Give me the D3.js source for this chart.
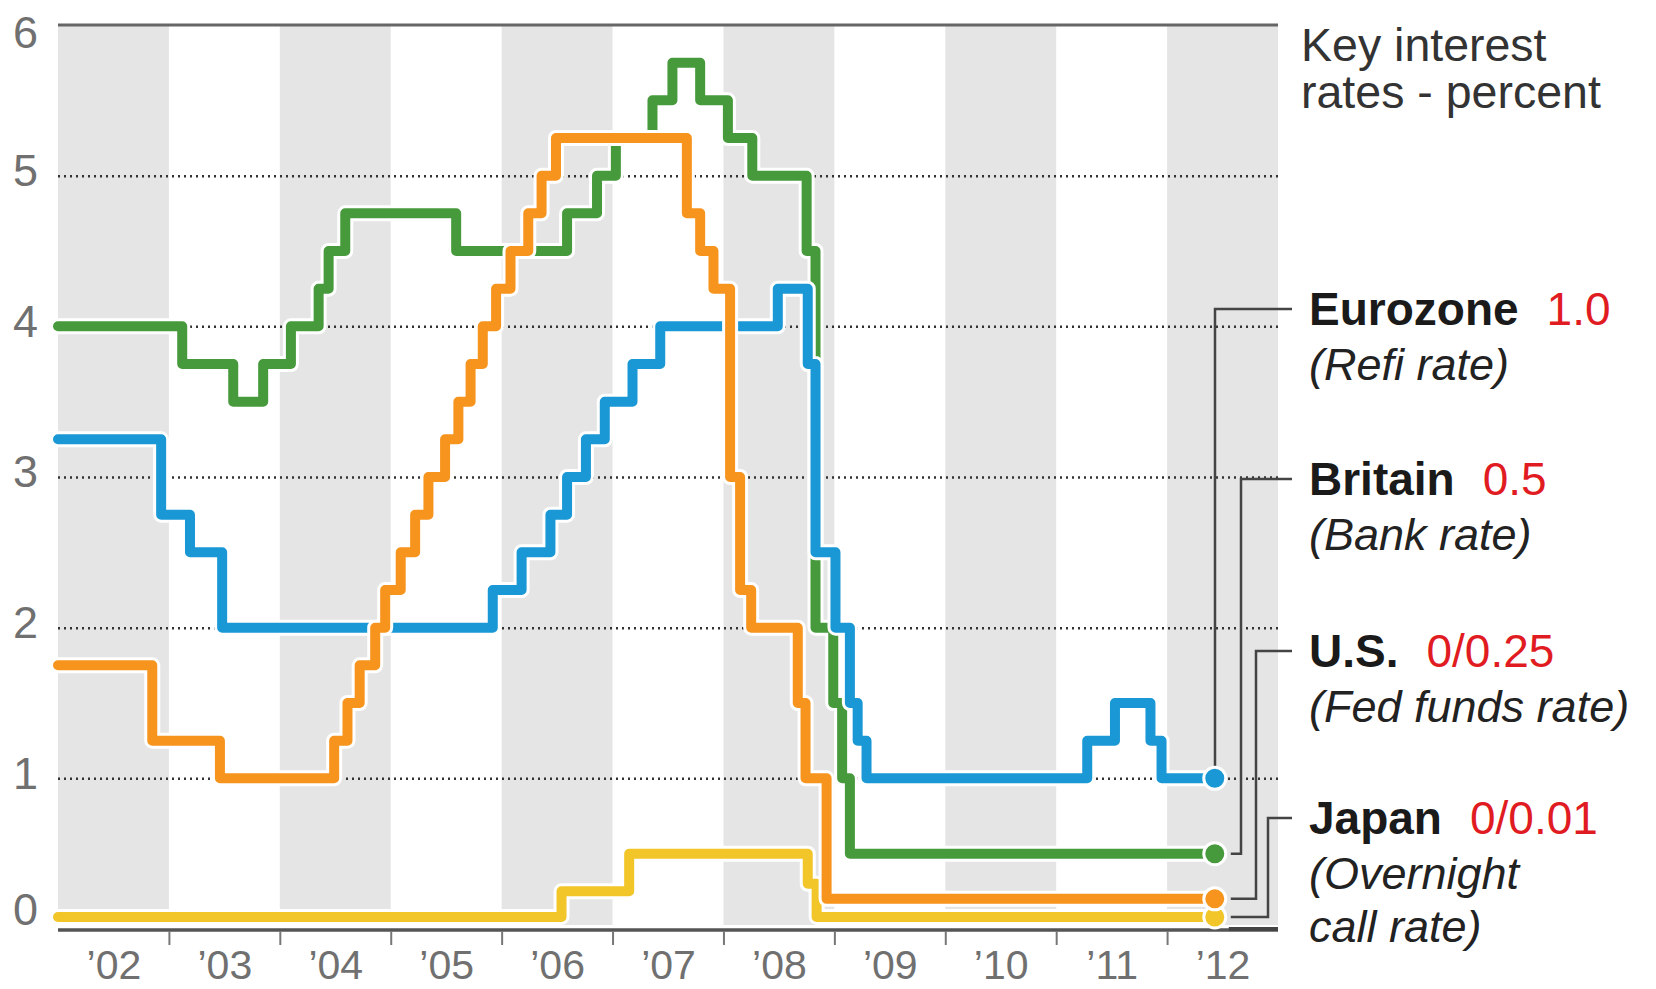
<!DOCTYPE html>
<html>
<head>
<meta charset="utf-8">
<script src="https://cdn.jsdelivr.net/npm/d3@7"></script>
<style>
  body { margin: 0; background: #fff; }
  svg text { font-family: "Liberation Sans", Arial, Helvetica, sans-serif; }
</style>
</head>
<body>
<div id="chart"></div>
<script>
// years shown as bands, and their labels
var years = [2002, 2003, 2004, 2005, 2006, 2007, 2008, 2009, 2010, 2011, 2012];
var yearLabels = ["\u201902", "\u201903", "\u201904", "\u201905", "\u201906", "\u201907", "\u201908", "\u201909", "\u201910", "\u201911", "\u201912"];
var yTicks = [0, 1, 2, 3, 4, 5, 6];
var endDate = 2012.43;

// Eurozone refi rate (change dates in decimal years, new rate)
var euroDates = [2002.0, 2002.93, 2003.19, 2003.48, 2005.92, 2006.18, 2006.44, 2006.59, 2006.76, 2006.93, 2007.18, 2007.43, 2008.49, 2008.76, 2008.83, 2009.01, 2009.14, 2009.21, 2009.29, 2011.28, 2011.53, 2011.85, 2011.95];
var euroRates = [3.25, 2.75, 2.5, 2.0, 2.25, 2.5, 2.75, 3.0, 3.25, 3.5, 3.75, 4.0, 4.25, 3.75, 2.5, 2.0, 1.5, 1.25, 1.0, 1.25, 1.5, 1.25, 1.0];

// Britain bank rate
var ukDates = [2002.0, 2003.12, 2003.58, 2003.85, 2004.10, 2004.35, 2004.44, 2004.59, 2005.59, 2006.59, 2006.86, 2007.03, 2007.36, 2007.54, 2007.79, 2008.04, 2008.26, 2008.75, 2008.83, 2008.99, 2009.07, 2009.14];
var ukRates = [4.0, 3.75, 3.5, 3.75, 4.0, 4.25, 4.5, 4.75, 4.5, 4.75, 5.0, 5.25, 5.5, 5.75, 5.5, 5.25, 5.0, 4.5, 2.0, 1.5, 1.0, 0.5];

// U.S. fed funds rate
var usDates = [2002.0, 2002.85, 2003.46, 2004.49, 2004.61, 2004.72, 2004.86, 2004.95, 2005.09, 2005.22, 2005.34, 2005.49, 2005.61, 2005.72, 2005.83, 2005.95, 2006.08, 2006.24, 2006.36, 2006.49, 2007.67, 2007.79, 2007.91, 2008.06, 2008.15, 2008.25, 2008.67, 2008.74, 2008.93];
var usRates = [1.75, 1.25, 1.0, 1.25, 1.5, 1.75, 2.0, 2.25, 2.5, 2.75, 3.0, 3.25, 3.5, 3.75, 4.0, 4.25, 4.5, 4.75, 5.0, 5.25, 4.75, 4.5, 4.25, 3.0, 2.25, 2.0, 1.5, 1.0, 0.2];

// Japan overnight call rate
var jpDates = [2002.0, 2006.54, 2007.15, 2008.76, 2008.84];
var jpRates = [0.08, 0.25, 0.5, 0.3, 0.08];

// legend texts
var names = ["Eurozone", "Britain", "U.S.", "Japan"];
var lastRates = ["1.0", "0.5", "0/0.25", "0/0.01"];
var notes = [["(Refi rate)"], ["(Bank rate)"], ["(Fed funds rate)"], ["(Overnight", "call rate)"]];
var colors = ["#1a98d5", "#479a3c", "#f7941e", "#f2c529"];

function steps(dates, rates) {
  var pts = dates.map(function(d, i) { return {t: d, v: rates[i]}; });
  pts.push({t: endDate, v: rates[rates.length - 1]});
  return pts;
}

var series = [
  {name: names[0], pts: steps(euroDates, euroRates), color: colors[0], labelY: 309, linkX: 1215},
  {name: names[1], pts: steps(ukDates, ukRates), color: colors[1], labelY: 479, linkX: 1241},
  {name: names[2], pts: steps(usDates, usRates), color: colors[2], labelY: 651, linkX: 1256},
  {name: names[3], pts: steps(jpDates, jpRates), color: colors[3], labelY: 818, linkX: 1268}
];

var width = 1656, height = 989;
var x = d3.scaleLinear().domain([2002, 2013]).range([58, 1278]);
var y = d3.scaleLinear().domain([0, 6]).range([929, 25]);

var svg = d3.select("#chart").append("svg")
    .attr("width", width)
    .attr("height", height);

// alternating year bands
svg.append("g").selectAll("rect")
  .data(years.filter(function(d, i) { return i % 2 === 0; }))
  .enter().append("rect")
    .attr("x", function(d) { return x(d); })
    .attr("width", function(d) { return x(d + 1) - x(d); })
    .attr("y", y(6))
    .attr("height", y(0) - y(6) - 4)
    .attr("fill", "#e5e5e5");

// dotted gridlines
var grid = svg.append("g")
    .attr("transform", "translate(" + x(2002) + ",0)")
    .call(d3.axisLeft(y).tickValues([1, 2, 3, 4, 5]).tickSize(-(x(2013) - x(2002))).tickFormat(""));
grid.select(".domain").remove();
grid.selectAll("line")
    .attr("stroke", "#333")
    .attr("stroke-width", 2.5)
    .attr("stroke-dasharray", "2,4");

// top rule
svg.append("line")
    .attr("x1", x(2002)).attr("x2", x(2013))
    .attr("y1", y(6)).attr("y2", y(6))
    .attr("stroke", "#666").attr("stroke-width", 3);

// y labels
var yAxis = svg.append("g")
    .attr("transform", "translate(38,0)")
    .call(d3.axisLeft(y).tickValues(yTicks).tickSize(0).tickPadding(0).tickFormat(d3.format("d")));
yAxis.select(".domain").remove();
yAxis.selectAll("text")
    .attr("font-size", 45)
    .attr("fill", "#707070")
    .attr("dy", function(d) { return d === 0 ? "-0.1em" : d === 6 ? "0.5em" : "0.22em"; });

// bottom axis line and ticks
svg.append("line")
    .attr("x1", x(2002)).attr("x2", x(2013))
    .attr("y1", y(0) + 1).attr("y2", y(0) + 1)
    .attr("stroke", "#555").attr("stroke-width", 3.5);

var xTicks = svg.append("g")
    .attr("transform", "translate(0," + (y(0) + 2) + ")")
    .call(d3.axisBottom(x).tickValues(years.slice(1)).tickSize(14).tickFormat(""));
xTicks.select(".domain").remove();
xTicks.selectAll("line").attr("stroke", "#777").attr("stroke-width", 2);

var xLabels = svg.append("g")
    .attr("transform", "translate(0," + (y(0) + 18) + ")")
    .call(d3.axisBottom(x).tickValues(years.map(function(d) { return d + 0.5; }))
      .tickSize(0).tickFormat(function(d, i) { return yearLabels[i]; }));
xLabels.select(".domain").remove();
xLabels.selectAll("text")
    .attr("font-size", 41)
    .attr("fill", "#707070");

// connectors from legend to line ends
var last = function(s) { return s.pts[s.pts.length - 1]; };
svg.append("g").selectAll("path")
  .data(series)
  .enter().append("path")
    .attr("fill", "none")
    .attr("stroke", "#444")
    .attr("stroke-width", 2.5)
    .attr("d", function(s, i) {
      var ey = y(last(s).v);
      if (i === 0) return "M1292," + s.labelY + "H" + s.linkX + "V" + (ey - 12);
      return "M1292," + s.labelY + "H" + s.linkX + "V" + ey + "H" + (x(endDate) + 16);
    });
svg.append("line")
    .attr("x1", x(endDate) + 14).attr("x2", x(2013))
    .attr("y1", y(0)).attr("y2", y(0))
    .attr("stroke", "#444").attr("stroke-width", 4);

// step lines with white halos (Japan at the bottom)
var line = d3.line()
    .x(function(d) { return x(d.t); })
    .y(function(d) { return y(d.v); })
    .curve(d3.curveStepAfter);

var order = [series[3], series[1], series[0], series[2]];
var g = svg.append("g").selectAll("g")
  .data(order)
  .enter().append("g");
g.append("path")
    .attr("d", function(s) { return line(s.pts); })
    .attr("fill", "none")
    .attr("stroke", "#fff")
    .attr("stroke-width", 16)
    .attr("stroke-linejoin", "round");
g.append("path")
    .attr("d", function(s) { return line(s.pts); })
    .attr("fill", "none")
    .attr("stroke", function(s) { return s.color; })
    .attr("stroke-width", 10)
    .attr("stroke-linejoin", "round")
    .attr("stroke-linecap", "round");
g.append("circle")
    .attr("cx", function(s) { return x(last(s).t); })
    .attr("cy", function(s) { return y(last(s).v); })
    .attr("r", 11)
    .attr("fill", function(s) { return s.color; })
    .attr("stroke", "#fff")
    .attr("stroke-width", 3);

// title
var title = svg.append("text")
    .attr("x", 1301)
    .attr("y", 61)
    .attr("font-size", 46.5)
    .attr("fill", "#333");
title.append("tspan").attr("x", 1301).text("Key interest");
title.append("tspan").attr("x", 1301).attr("dy", 47).text("rates - percent");

// legend labels
series.forEach(function(s, i) {
  var lx = 1309, by = s.labelY + 16;
  var t = svg.append("text").attr("x", lx).attr("y", by).attr("font-size", 46);
  t.append("tspan").attr("font-weight", "bold").attr("fill", "#1a1a1a").text(names[i]);
  t.append("tspan").attr("dx", 28).attr("fill", "#e11b22").text(lastRates[i]);
  notes[i].forEach(function(n, j) {
    svg.append("text")
      .attr("x", lx)
      .attr("y", by + 55 + j * 53)
      .attr("font-size", 45)
      .attr("font-style", "italic")
      .attr("fill", "#222")
      .text(n);
  });
});
</script>
</body>
</html>
